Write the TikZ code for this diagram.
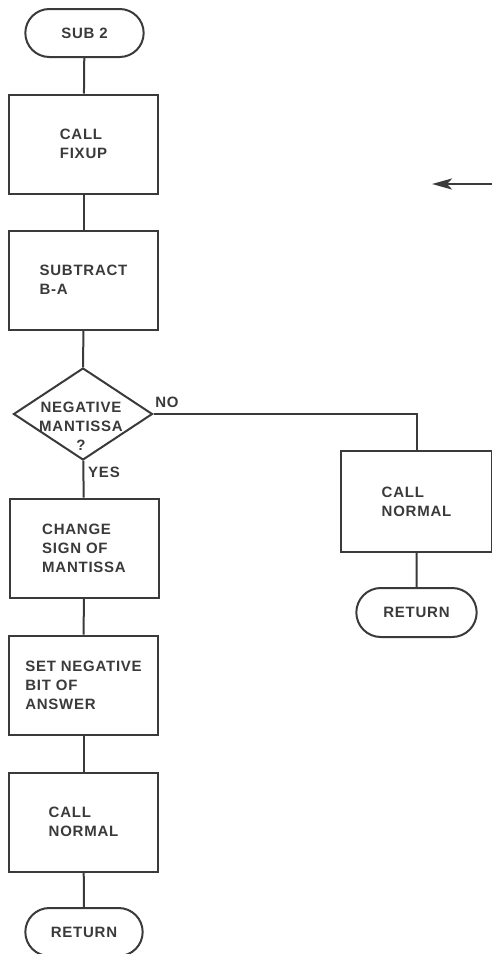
\documentclass[tikz,border=0pt]{standalone}
\usepackage{fontspec}
\usepackage{xcolor}
\usetikzlibrary{shapes.geometric, shapes.misc, arrows.meta}
\newfontfamily\flowfont[LetterSpace=5]{Liberation Sans}
\definecolor{inkgray}{RGB}{58,58,58}

\begin{document}
\begin{tikzpicture}[x=1pt, y=-1pt,
    every node/.style={font=\flowfont\bfseries\fontsize{15}{19}\selectfont, text=inkgray},
    terminal/.style={draw=inkgray, line width=2pt, rounded rectangle, minimum width=125pt, minimum height=48pt},
    process/.style={draw=inkgray, line width=2pt, rectangle, minimum width=149pt, minimum height=99pt, align=left},
    decision/.style={draw=inkgray, line width=2pt, diamond, minimum width=139pt, minimum height=92pt, inner sep=0pt},
    link/.style={draw=inkgray, line width=2pt}]

\useasboundingbox (0,0) rectangle (492,954);

% Main column
\node[terminal] (start) at (84.5,33) {SUB 2};
\node[process] (fixup) at (83.5,144) {CALL\\FIXUP};
\node[process] (subtract) at (83.5,280) {SUBTRACT\\B-A};
\node[decision] (negq) at (83,414) {};
\node[align=center] (negqtext) at (81,426) {NEGATIVE\\MANTISSA\\?};
\node[process] (change) at (84,548) {CHANGE\\SIGN OF\\MANTISSA};
\node[process] (setbit) at (83.5,685) {SET NEGATIVE\\BIT OF\\ANSWER};
\node[process] (callnorm) at (83.5,822) {CALL\\NORMAL};
\node[terminal, minimum width=124pt] (ret) at (84,932) {RETURN};

% Branch labels
\node (nolabel) at (167,402) {NO};
\node (yeslabel) at (104,472) {YES};

% Side column
\node[process, minimum width=151pt, minimum height=101pt] (callnormr) at (416.5,501.5) {CALL\\NORMAL};
\node[terminal, minimum width=127pt, minimum height=49pt] (retr) at (416.5,612.5) {RETURN};

% Connectors
\draw[link] (start) -- (fixup);
\draw[link] (fixup) -- (subtract);
\draw[link] (subtract) -- (negq);
\draw[link] (negq) -- (change);
\draw[link] (change) -- (setbit);
\draw[link] (setbit) -- (callnorm);
\draw[link] (callnorm) -- (ret);
\draw[link] (negq.east) -| (callnormr.north);
\draw[link] (callnormr) -- (retr);

% Entry arrow
\coordinate (arrowtail) at (498,184);
\coordinate (arrowtip) at (432,184);
\draw[link, line width=2.8pt, -{Stealth[length=20pt, width=11pt, inset=5pt]}] (arrowtail) -- (arrowtip);

\end{tikzpicture}
\end{document}
